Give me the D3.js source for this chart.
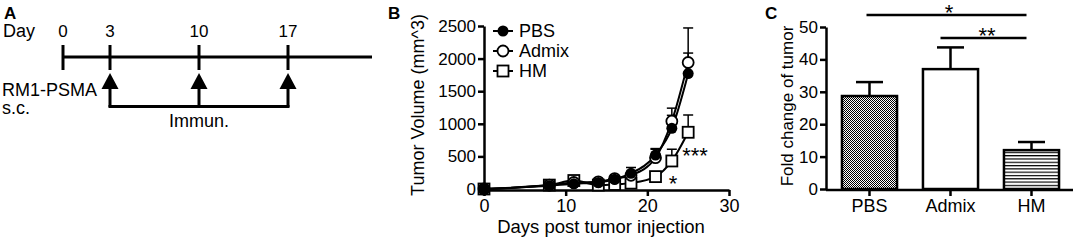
<!DOCTYPE html>
<html><head><meta charset="utf-8">
<script src="https://cdn.jsdelivr.net/npm/d3@7"></script>
<style>body{margin:0;background:#fff}svg text{font-family:"Liberation Sans",Arial,sans-serif;fill:#000}</style>
</head><body><svg id="c" width="1074" height="241"></svg>
<script>
// Panel A timeline
const timelineDays = [0, 3, 10, 17];
const immunDays = [3, 10, 17];
// Panel B data
const days = [0, 8, 11, 14, 16, 18, 21, 23, 25];
const pbs = [0, 50, 80, 100, 150, 240, 520, 930, 1770];
const pbsErr = [0, 20, 30, 30, 40, 90, 100, 200, 315];
const admix = [0, 60, 100, 110, 160, 210, 480, 1040, 1940];
const admixErr = [0, 20, 30, 30, 30, 60, 130, 200, 530];
const hm = [0, 60, 130, 60, 70, 90, 190, 430, 870];
const hmErr = [0, 15, 20, 20, 20, 30, 40, 180, 265];
const seriesNames = ["PBS", "Admix", "HM"];
const yTicksB = [0, 500, 1000, 1500, 2000, 2500];
const xTicksB = [0, 10, 20, 30];
// Panel C data
const groups = ["PBS", "Admix", "HM"];
const fold = [28.7, 37, 12];
const foldErr = [4.3, 6.7, 2.5];
const yTicksC = [0, 10, 20, 30, 40, 50];

const svg = d3.select("#c");
const FS = "18px";
const TS = "17px";
const STAR = "22px";

// ---------- Panel A ----------
const gA = svg.append("g");
gA.append("text").attr("x", 4).attr("y", 19).attr("font-size", "17px").attr("font-weight", "bold").text("A");
gA.append("text").attr("x", 3).attr("y", 37).attr("font-size", FS).text("Day");
const xA = d3.scaleLinear().domain([0, 3, 17]).range([63, 110, 288]);
const tlY = 57;
gA.append("line").attr("x1", xA(0)).attr("x2", 372).attr("y1", tlY).attr("y2", tlY).attr("stroke", "#000").attr("stroke-width", 3);
gA.selectAll(".tk").data(timelineDays).join("line")
  .attr("x1", d => xA(d)).attr("x2", d => xA(d)).attr("y1", 45).attr("y2", 70)
  .attr("stroke", "#000").attr("stroke-width", 3);
gA.selectAll(".tl").data(timelineDays).join("text")
  .attr("x", d => xA(d)).attr("y", 37).attr("text-anchor", "middle").attr("font-size", TS).text(d => d);
gA.selectAll(".ar").data(immunDays).join("path")
  .attr("d", d => `M${xA(d)},73 L${xA(d)-8.5},89 L${xA(d)+8.5},89 Z`).attr("fill", "#000");
gA.selectAll(".st").data(immunDays).join("line")
  .attr("x1", d => xA(d)).attr("x2", d => xA(d)).attr("y1", 88).attr("y2", 107)
  .attr("stroke", "#000").attr("stroke-width", 3);
gA.append("line").attr("x1", xA(3) - 1.5).attr("x2", xA(17) + 1.5).attr("y1", 106.5).attr("y2", 106.5).attr("stroke", "#000").attr("stroke-width", 3);
gA.append("text").attr("x", 2).attr("y", 96).attr("font-size", FS).text("RM1-PSMA");
gA.append("text").attr("x", 2).attr("y", 114).attr("font-size", FS).text("s.c.");
gA.append("text").attr("x", xA(10)).attr("y", 127).attr("text-anchor", "middle").attr("font-size", FS).text("Immun.");

// ---------- Panel B ----------
const gB = svg.append("g");
const xB = d3.scaleLinear().domain([0, 30]).range([484, 729]);
const yB = d3.scaleLinear().domain([0, 2500]).range([189, 26]);
gB.append("text").attr("x", 388).attr("y", 19).attr("font-size", "17px").attr("font-weight", "bold").text("B");
const axY = gB.append("g").attr("transform", `translate(${xB(0)},0)`)
  .call(d3.axisLeft(yB).tickValues(yTicksB).tickFormat(d3.format("d")).tickSize(6).tickPadding(2).tickSizeOuter(0));
const axX = gB.append("g").attr("transform", `translate(0,${yB(0) + 1})`)
  .call(d3.axisBottom(xB).tickValues(xTicksB).tickFormat(d3.format("d")).tickSize(6).tickPadding(3).tickSizeOuter(0));
[axY, axX].forEach(a => {
  a.select(".domain").attr("stroke-width", 2.5);
  a.selectAll(".tick line").attr("stroke-width", 2.5);
  a.selectAll("text").attr("font-size", TS).attr("font-family", "Liberation Sans, Arial, sans-serif");
});
axX.selectAll("text").attr("font-size", FS);
gB.append("text").attr("transform", `translate(424,105) rotate(-90)`).attr("text-anchor", "middle").attr("font-size", FS).text("Tumor Volume (mm^3)");
gB.append("text").attr("x", 601).attr("y", 233).attr("text-anchor", "middle").attr("font-size", "18.5px").text("Days post tumor injection");

const seriesVals = [pbs, admix, hm];
const errs = [pbsErr, admixErr, hmErr];
const line = d3.line().x(d => xB(d[0])).y(d => yB(d[1])).curve(d3.curveMonotoneX);
// error bars
seriesVals.forEach((vals, si) => {
  const data = days.map((d, i) => [d, vals[i], errs[si][i]]).filter(d => d[2] > 0);
  gB.selectAll(".eb" + si).data(data).join("line")
    .attr("x1", d => xB(d[0])).attr("x2", d => xB(d[0])).attr("y1", d => yB(d[1])).attr("y2", d => yB(d[1] + d[2]))
    .attr("stroke", "#000").attr("stroke-width", 1.5);
  gB.selectAll(".ec" + si).data(data).join("line")
    .attr("x1", d => xB(d[0]) - 5).attr("x2", d => xB(d[0]) + 5).attr("y1", d => yB(d[1] + d[2])).attr("y2", d => yB(d[1] + d[2]))
    .attr("stroke", "#000").attr("stroke-width", 1.5);
});
seriesVals.forEach((vals, si) => {
  gB.append("path").datum(days.map((d, i) => [d, vals[i]])).attr("d", line)
    .attr("fill", "none").attr("stroke", "#000").attr("stroke-width", 2);
});
function marker(g, si, x, y) {
  if (si === 0) g.append("circle").attr("cx", x).attr("cy", y).attr("r", 5.5).attr("fill", "#000");
  else if (si === 1) g.append("circle").attr("cx", x).attr("cy", y).attr("r", 5.5).attr("fill", "#fff").attr("stroke", "#000").attr("stroke-width", 1.8);
  else g.append("rect").attr("x", x - 5.5).attr("y", y - 5.5).attr("width", 11).attr("height", 11).attr("fill", "#fff").attr("stroke", "#000").attr("stroke-width", 1.8);
}
[2, 1, 0].forEach(si => {
  days.forEach((d, i) => marker(gB, si, xB(d), yB(seriesVals[si][i])));
});
// stars
gB.append("text").attr("x", 695).attr("y", 163).attr("text-anchor", "middle").attr("font-size", STAR).text("***");
gB.append("text").attr("x", 673).attr("y", 191).attr("text-anchor", "middle").attr("font-size", STAR).text("*");
// legend
seriesNames.forEach((n, si) => {
  const ly = 31 + si * 20;
  gB.append("line").attr("x1", 493).attr("x2", 513).attr("y1", ly).attr("y2", ly).attr("stroke", "#000").attr("stroke-width", 2);
  marker(gB, si, 503, ly);
  gB.append("text").attr("x", 519).attr("y", ly + 6).attr("font-size", FS).text(n);
});

// ---------- Panel C ----------
const gC = svg.append("g");
const xC = d3.scaleBand().domain(groups).range([829, 1072]).paddingInner(0.32).paddingOuter(0.16);
const yC = d3.scaleLinear().domain([0, 50]).range([189, 27]);
gC.append("text").attr("x", 765).attr("y", 19).attr("font-size", "17px").attr("font-weight", "bold").text("C");
const defs = svg.append("defs");
const p1 = defs.append("pattern").attr("id", "chk").attr("patternUnits", "userSpaceOnUse").attr("width", 2).attr("height", 2);
p1.append("rect").attr("width", 2).attr("height", 2).attr("fill", "#fff");
p1.append("rect").attr("width", 1).attr("height", 1).attr("fill", "#000");
p1.append("rect").attr("x", 1).attr("y", 1).attr("width", 1).attr("height", 1).attr("fill", "#000");
const p2 = defs.append("pattern").attr("id", "hz").attr("patternUnits", "userSpaceOnUse").attr("width", 4).attr("height", 3.3);
p2.append("rect").attr("width", 4).attr("height", 3.3).attr("fill", "#fff");
p2.append("rect").attr("width", 4).attr("height", 1.2).attr("fill", "#000");
const fills = ["url(#chk)", "#fff", "url(#hz)"];
gC.selectAll(".ebc").data(groups).join("line")
  .attr("x1", d => xC(d) + xC.bandwidth() / 2).attr("x2", d => xC(d) + xC.bandwidth() / 2)
  .attr("y1", (d, i) => yC(fold[i])).attr("y2", (d, i) => yC(fold[i] + foldErr[i])).attr("stroke", "#000").attr("stroke-width", 2.5);
gC.selectAll(".ecc").data(groups).join("line")
  .attr("x1", d => xC(d) + xC.bandwidth() / 2 - 13.5).attr("x2", d => xC(d) + xC.bandwidth() / 2 + 13.5)
  .attr("y1", (d, i) => yC(fold[i] + foldErr[i])).attr("y2", (d, i) => yC(fold[i] + foldErr[i])).attr("stroke", "#000").attr("stroke-width", 2.5);
gC.selectAll(".bar").data(groups).join("rect")
  .attr("x", d => xC(d)).attr("width", xC.bandwidth())
  .attr("y", (d, i) => yC(fold[i])).attr("height", (d, i) => yC(0) - yC(fold[i]))
  .attr("fill", (d, i) => fills[i]).attr("stroke", "#000").attr("stroke-width", 2.5);
const axYC = gC.append("g").attr("transform", `translate(826,0)`)
  .call(d3.axisLeft(yC).tickValues(yTicksC).tickSize(6).tickPadding(2).tickSizeOuter(0));
const axXC = gC.append("g").attr("transform", `translate(0,${yC(0) + 1})`)
  .call(d3.axisBottom(xC).tickSize(6).tickPadding(3).tickSizeOuter(0));
axXC.select(".domain").attr("d", `M826,0H1073`);
[axYC, axXC].forEach(a => {
  a.select(".domain").attr("stroke-width", 2.5);
  a.selectAll(".tick line").attr("stroke-width", 2.5);
  a.selectAll("text").attr("font-size", TS).attr("font-family", "Liberation Sans, Arial, sans-serif");
});
axXC.selectAll("text").attr("font-size", FS);
gC.append("text").attr("transform", `translate(793,106) rotate(-90)`).attr("text-anchor", "middle").attr("font-size", TS).text("Fold change of tumor");
// significance
const sig = [{a: "PBS", b: "HM", y: 15, t: "*", tx: 949}, {a: "Admix", b: "HM", y: 38, t: "**", tx: 987}];
sig.forEach(s => {
  const x1 = xC(s.a) + xC.bandwidth() / 2 - 3, x2 = xC(s.b) + xC.bandwidth() / 2 - 5;
  gC.append("line").attr("x1", s.a === "PBS" ? x1 : x1 - 7).attr("x2", x2).attr("y1", s.y).attr("y2", s.y).attr("stroke", "#000").attr("stroke-width", 2.5);
  gC.append("text").attr("x", s.tx).attr("y", s.y + 5).attr("text-anchor", "middle").attr("font-size", STAR).text(s.t);
});
</script></body></html>
